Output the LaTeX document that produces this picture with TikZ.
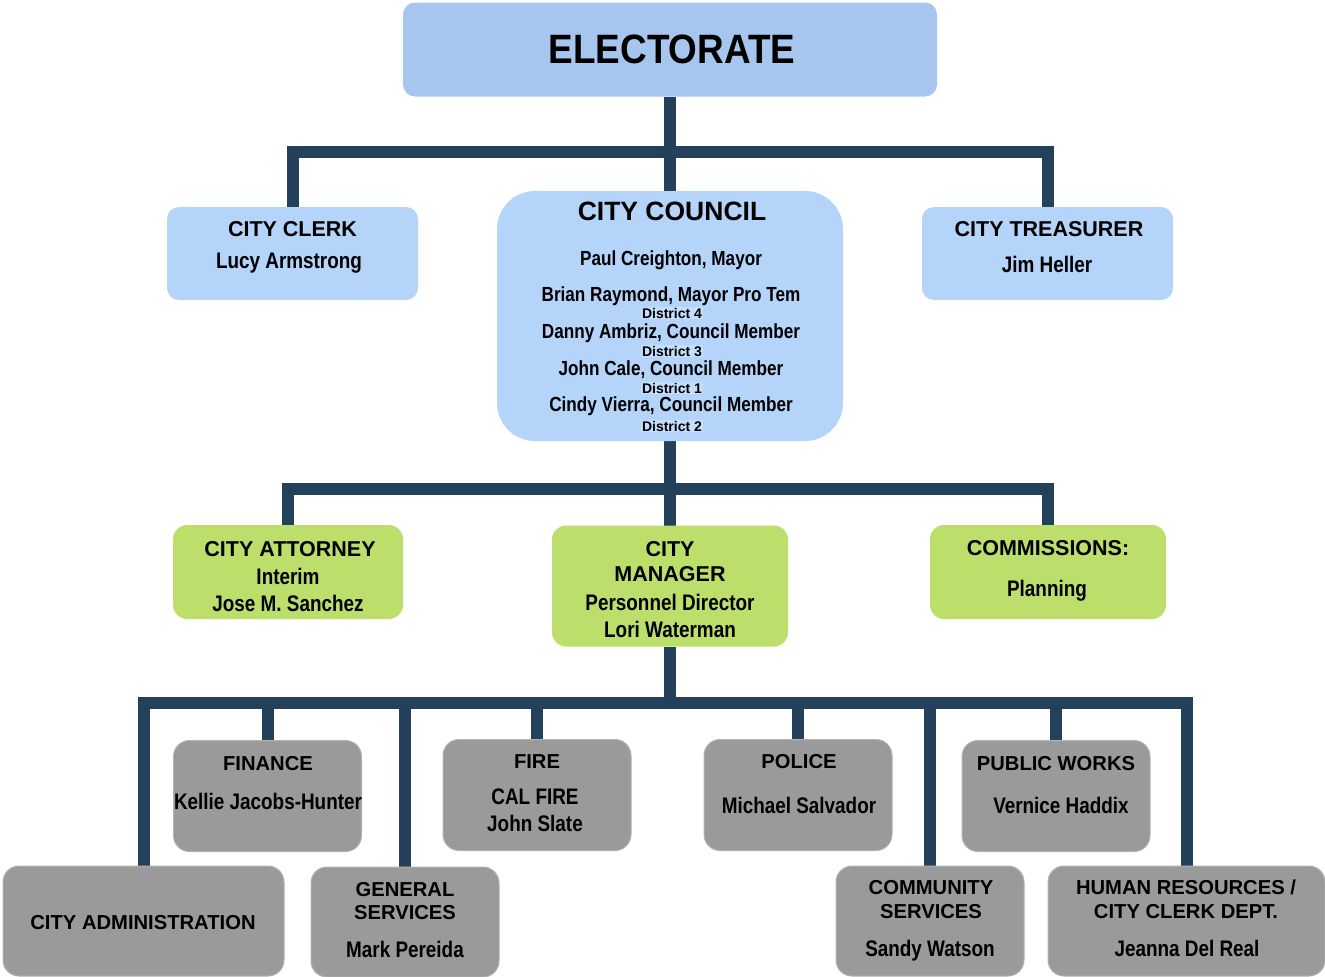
\documentclass[tikz,border=0pt]{standalone}
\usepackage{fontspec}
\setmainfont{Liberation Sans}
\newfontfamily\nar[FakeStretch=0.84]{Liberation Sans}
\newfontfamily\elfont[FakeStretch=0.9]{Liberation Sans}
\usetikzlibrary{backgrounds}
\definecolor{linec}{HTML}{23415A}
\definecolor{eblue}{HTML}{A6C6EE}
\definecolor{lblue}{HTML}{B4D4FA}
\definecolor{dblue}{HTML}{C4DFFC}
\definecolor{cgreen}{HTML}{BCDF6C}
\definecolor{cgray}{HTML}{9A9A9A}
\definecolor{gedge}{HTML}{B2B2B2}
\tikzset{
  conn/.style={draw=linec, line width=12pt, line join=miter, line cap=butt},
  boxbase/.style={rectangle, inner sep=0pt, outer sep=0pt},
  ebox/.style={boxbase, fill=eblue, rounded corners=12pt},
  bbox/.style={boxbase, fill=lblue, rounded corners=12pt},
  cbox/.style={boxbase, fill=lblue, rounded corners=38pt},
  gnbox/.style={boxbase, fill=cgreen, rounded corners=14pt},
  gybox/.style={boxbase, fill=cgray, draw=gedge, line width=1pt, rounded corners=16pt},
  txt/.style={inner sep=0pt, anchor=base, text=black},
  hd/.style={txt, font=\bfseries\fontsize{21.5}{24}\selectfont},
  ghd/.style={txt, font=\bfseries\fontsize{20.2}{23}\selectfont},
  nm/.style={txt, font=\nar\bfseries\fontsize{22.5}{25}\selectfont},
  cnm/.style={txt, font=\nar\bfseries\fontsize{20.4}{23}\selectfont},
  dist/.style={anchor=base, fill=dblue, inner xsep=1pt, inner ysep=1pt, font=\bfseries\fontsize{14}{16}\selectfont},
}
\begin{document}
\begin{tikzpicture}[x=1pt, y=-1pt]
\useasboundingbox (0,0) rectangle (1325,977);

% ---------- boxes ----------
\node[ebox, minimum width=534pt, minimum height=94pt] (elect) at (670,49.5) {};
\node[bbox, minimum width=251pt, minimum height=93pt] (clerk) at (292.5,253.5) {};
\node[cbox, minimum width=346pt, minimum height=250pt] (council) at (670,316) {};
\node[bbox, minimum width=251pt, minimum height=93pt] (treas) at (1047.5,253.5) {};

\node[gnbox, minimum width=230pt, minimum height=94pt] (att) at (288,572) {};
\node[gnbox, minimum width=236pt, minimum height=121pt] (mgr) at (670,586) {};
\node[gnbox, minimum width=236pt, minimum height=94pt] (comm) at (1048,572) {};

\node[gybox, minimum width=188pt, minimum height=111pt] (fin) at (267.5,796) {};
\node[gybox, minimum width=188pt, minimum height=111pt] (fire) at (537,795) {};
\node[gybox, minimum width=188pt, minimum height=111pt] (pol) at (798,795) {};
\node[gybox, minimum width=188pt, minimum height=111pt] (pw) at (1056,796) {};
\node[gybox, minimum width=281pt, minimum height=110pt] (admin) at (143.5,921) {};
\node[gybox, minimum width=188pt, minimum height=110pt] (gen) at (405,922) {};
\node[gybox, minimum width=188pt, minimum height=110pt] (cs) at (930,921) {};
\node[gybox, minimum width=277pt, minimum height=110pt] (hr) at (1186.5,921) {};

% ---------- connectors ----------
\begin{scope}[on background layer]
  \coordinate (b1) at (670,152);
  \coordinate (b2) at (670,489);
  \coordinate (b3) at (670,703);
  \draw[conn] (elect.south) -- (council.north);
  \draw[conn] (clerk.north) |- (b1) -| (treas.north);
  \draw[conn] (council.south) -- (mgr.north);
  \draw[conn] (att.north) |- (b2) -| (comm.north);
  \draw[conn] (mgr.south) -- (b3);
  \draw[conn] (admin.north) |- (b3) -| (hr.north);
  \draw[conn] (fin.north) -- (fin.north |- b3);
  \draw[conn] (gen.north) -- (gen.north |- b3);
  \draw[conn] (fire.north) -- (fire.north |- b3);
  \draw[conn] (pol.north) -- (pol.north |- b3);
  \draw[conn] (cs.north) -- (cs.north |- b3);
  \draw[conn] (pw.north) -- (pw.north |- b3);
\end{scope}

% ---------- texts ----------
\node[txt, font=\elfont\bfseries\fontsize{41}{44}\selectfont] (elect-t) at (672,63) {ELECTORATE};

\node[hd] (clerk-t1) at (292.5,236) {CITY CLERK};
\node[nm] (clerk-t2) at (289,268) {Lucy Armstrong};

\node[hd] (treas-t1) at (1049,236) {CITY TREASURER};
\node[nm] (treas-t2) at (1047,272) {Jim Heller};

\node[txt, font=\bfseries\fontsize{26.5}{30}\selectfont] (council-t) at (672,220) {CITY COUNCIL};
\node[cnm] (c1) at (671,265) {Paul Creighton, Mayor};
\node[cnm] (c2) at (671,301) {Brian Raymond, Mayor Pro Tem};
\node[dist] (d4) at (672,318) {District 4};
\node[cnm] (c3) at (671,338) {Danny Ambriz, Council Member};
\node[dist] (d3) at (672,356) {District 3};
\node[cnm] (c4) at (671,375) {John Cale, Council Member};
\node[dist] (d1) at (672,393) {District 1};
\node[cnm] (c5) at (671,411) {Cindy Vierra, Council Member};
\node[dist] (d2) at (672,431) {District 2};

\node[hd] (att-t1) at (290,556) {CITY ATTORNEY};
\node[nm] (att-t2) at (288,584) {Interim};
\node[nm] (att-t3) at (288,611) {Jose M. Sanchez};

\node[hd] (mgr-t1) at (670,556) {CITY};
\node[hd] (mgr-t2) at (670,581) {MANAGER};
\node[nm] (mgr-t3) at (670,610) {Personnel Director};
\node[nm] (mgr-t4) at (670,637) {Lori Waterman};

\node[hd] (comm-t1) at (1048,555) {COMMISSIONS:};
\node[nm] (comm-t2) at (1047,596) {Planning};

\node[ghd] (fin-t1) at (268,770) {FINANCE};
\node[nm] (fin-t2) at (268,809) {Kellie Jacobs-Hunter};

\node[ghd] (fire-t1) at (537,768) {FIRE};
\node[nm] (fire-t2) at (535,804) {CAL FIRE};
\node[nm] (fire-t3) at (535,831) {John Slate};

\node[ghd] (pol-t1) at (799,768) {POLICE};
\node[nm] (pol-t2) at (799,813) {Michael Salvador};

\node[ghd] (pw-t1) at (1056,770) {PUBLIC WORKS};
\node[nm] (pw-t2) at (1061,813) {Vernice Haddix};

\node[ghd] (admin-t) at (143,929) {CITY ADMINISTRATION};

\node[ghd] (gen-t1) at (405,896) {GENERAL};
\node[ghd] (gen-t2) at (405,919) {SERVICES};
\node[nm] (gen-t3) at (405,957) {Mark Pereida};

\node[ghd] (cs-t1) at (931,894) {COMMUNITY};
\node[ghd] (cs-t2) at (931,918) {SERVICES};
\node[nm] (cs-t3) at (930,956) {Sandy Watson};

\node[ghd] (hr-t1) at (1186,894) {HUMAN RESOURCES /};
\node[ghd] (hr-t2) at (1186,918) {CITY CLERK DEPT.};
\node[nm] (hr-t3) at (1187,956) {Jeanna Del Real};
\end{tikzpicture}
\end{document}
